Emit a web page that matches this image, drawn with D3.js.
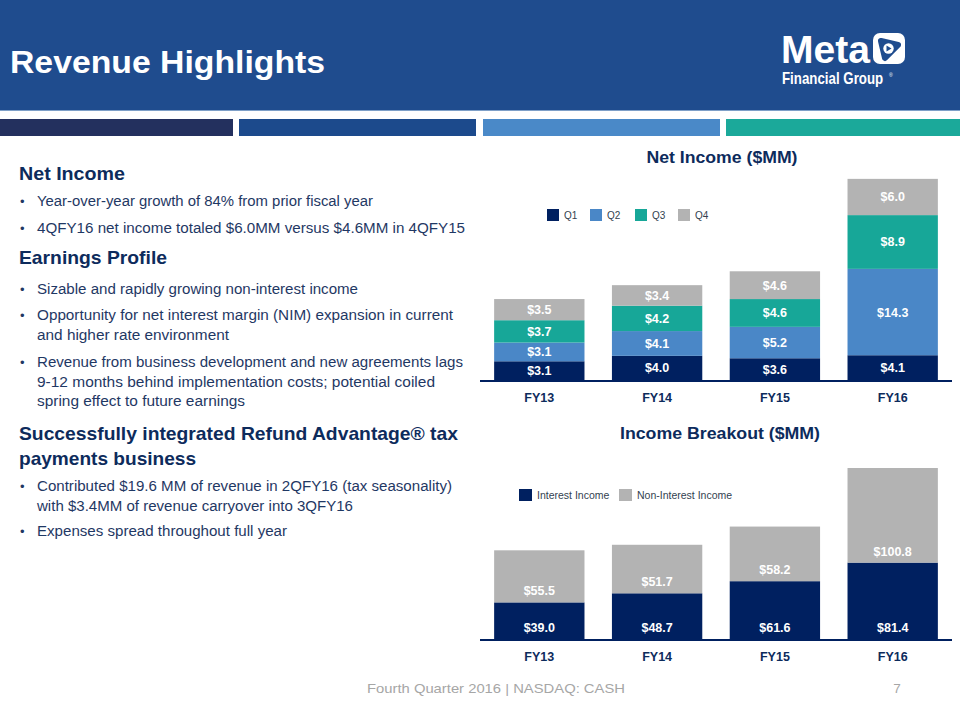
<!DOCTYPE html>
<html><head><meta charset="utf-8">
<script src="https://cdn.jsdelivr.net/npm/d3@7"></script>
<style>body{margin:0;background:#fff}svg{display:block}</style>
</head><body>
<script>
const years = ["FY13","FY14","FY15","FY16"];
const quarters = ["Q1","Q2","Q3","Q4"];
const q1 = [3.1,4.0,3.6,4.1];
const q2 = [3.1,4.1,5.2,14.3];
const q3 = [3.7,4.2,4.6,8.9];
const q4 = [3.5,3.4,4.6,6.0];
const incomeSeries = ["Interest Income","Non-Interest Income"];
const interestIncome = [39.0,48.7,61.6,81.4];
const nonInterestIncome = [55.5,51.7,58.2,100.8];

const W=960,H=720;
const navy="#002060", txtNavy="#0D2B5C", bodyCol="#1F3864";
const qColors=["#002060","#4A87C7","#17A798","#B3B3B3"];
const incColors=["#002060","#B3B3B3"];
const svg=d3.select("body").append("svg").attr("width",W).attr("height",H);
const FONT="'Liberation Sans', Arial, sans-serif";
const hdr="#1F4C8E";

// header
svg.append("rect").attr("x",0).attr("y",0).attr("width",W).attr("height",111).attr("fill",hdr);
svg.append("rect").attr("x",0).attr("y",110).attr("width",W).attr("height",1).attr("fill","#7FA0C8");
svg.append("text").attr("x",10).attr("y",73).attr("fill","#fff").attr("font-family",FONT)
  .attr("font-weight","bold").attr("font-size",31).attr("textLength",315).attr("lengthAdjust","spacingAndGlyphs")
  .text("Revenue Highlights");
// stripe bars
const stripes=[[0,233,"#23305E"],[239,476,"#1C4A8C"],[483,720,"#4A89C8"],[726,960,"#1BA99A"]];
stripes.forEach(s=>svg.append("rect").attr("x",s[0]).attr("y",119).attr("width",s[1]-s[0]).attr("height",17).attr("fill",s[2]));

// logo
const lg=svg.append("g");
lg.append("text").attr("x",781).attr("y",63).attr("fill","#fff").attr("font-family",FONT).attr("font-weight","bold")
  .attr("font-size",39).attr("textLength",89).attr("lengthAdjust","spacingAndGlyphs").text("Meta");
lg.append("rect").attr("x",873).attr("y",33).attr("width",32).attr("height",31).attr("rx",7).attr("fill","#fff");
lg.append("path").attr("d","M881,41 L898,45 L885,58 Z").attr("fill",hdr).attr("stroke",hdr)
  .attr("stroke-width",6).attr("stroke-linejoin","round");
lg.append("circle").attr("cx",888.5).attr("cy",48.5).attr("r",5.2).attr("fill","#fff");
lg.append("path").attr("d","M886.5,45.5 L891.5,48.5 L886.5,51.5 Z").attr("fill",hdr);
lg.append("g").attr("transform","translate(782,84) scale(1,1.2)")
  .append("text").attr("x",0).attr("y",0).attr("fill","#fff").attr("font-family",FONT).attr("font-weight","bold")
  .attr("font-size",13.3).text("Financial Group");
lg.append("text").attr("x",889).attr("y",77).attr("fill","#fff").attr("font-family",FONT).attr("font-size",5).text("®");

// left text
const lines=[
 {t:"Net Income",x:19,y:180,w:106,h:true},
 {t:"Year-over-year growth of 84% from prior fiscal year",x:37,y:206,w:336,b:true},
 {t:"4QFY16 net income totaled $6.0MM versus $4.6MM in 4QFY15",x:37,y:233,w:428,b:true},
 {t:"Earnings Profile",x:19,y:264,w:148,h:true},
 {t:"Sizable and rapidly growing non-interest income",x:37,y:294,w:321,b:true},
 {t:"Opportunity for net interest margin (NIM) expansion in current",x:37,y:320,w:416,b:true},
 {t:"and higher rate environment",x:37,y:340,w:192},
 {t:"Revenue from business development and new agreements lags",x:37,y:367,w:426,b:true},
 {t:"9-12 months behind implementation costs;  potential coiled",x:37,y:387,w:398},
 {t:"spring effect to future earnings",x:37,y:406,w:208},
 {t:"Successfully integrated Refund Advantage\u00AE tax",x:19,y:440,w:439,h:true},
 {t:"payments business",x:19,y:465,w:177,h:true},
 {t:"Contributed $19.6 MM of revenue in 2QFY16 (tax seasonality)",x:37,y:491,w:415,b:true},
 {t:"with $3.4MM of revenue carryover into 3QFY16",x:37,y:511,w:316},
 {t:"Expenses spread throughout full year",x:37,y:536,w:250,b:true}
];
lines.forEach(l=>{
  svg.append("text").attr("x",l.x).attr("y",l.y).attr("font-family",FONT)
    .attr("fill",l.h?txtNavy:bodyCol).attr("font-weight",l.h?"bold":"normal")
    .attr("font-size",l.h?19:14).attr("textLength",l.w).attr("lengthAdjust","spacingAndGlyphs").text(l.t);
  if(l.b) svg.append("text").attr("x",20).attr("y",l.y).attr("font-family",FONT).attr("fill",bodyCol).attr("font-size",13).text("\u2022");
});

// shared x scale
const x=d3.scaleBand().domain(years).range([480,952]).paddingInner(0.233).paddingOuter(0.12);

// ---- chart 1 ----
const y1=d3.scaleLinear().domain([0,35]).range([380,380-35*6.04]);
svg.append("text").attr("x",722).attr("y",163).attr("text-anchor","middle").attr("font-family",FONT)
  .attr("font-weight","bold").attr("font-size",16).attr("fill",txtNavy).attr("textLength",151).attr("lengthAdjust","spacingAndGlyphs").text("Net Income ($MM)");
const qData=years.map((yr,i)=>({year:yr,Q1:q1[i],Q2:q2[i],Q3:q3[i],Q4:q4[i]}));
const st1=d3.stack().keys(quarters)(qData);
const g1=svg.append("g");
st1.forEach((layer,li)=>{
  layer.forEach(d=>{
    g1.append("rect").attr("x",x(d.data.year)).attr("width",x.bandwidth())
      .attr("y",y1(d[1])).attr("height",y1(d[0])-y1(d[1])).attr("fill",qColors[li]);
    g1.append("text").attr("x",x(d.data.year)+x.bandwidth()/2).attr("y",(y1(d[0])+y1(d[1]))/2+4.5)
      .attr("text-anchor","middle").attr("font-family",FONT).attr("font-weight","bold").attr("font-size",12.5)
      .attr("fill","#fff").text("$"+(d[1]-d[0]).toFixed(1));
  });
});
const ax1=svg.append("g").attr("transform","translate(0,381)").call(d3.axisBottom(x).tickSize(0).tickPadding(12));
ax1.select(".domain").attr("stroke",navy).attr("stroke-width",2).attr("d","M480,0H952");
ax1.selectAll("text").attr("font-family",FONT).attr("font-weight","bold").attr("font-size",12.5).attr("fill",txtNavy);
const leg1=svg.append("g");
const legX1=[547,590,635,678];
quarters.forEach((q,i)=>{
  leg1.append("rect").attr("x",legX1[i]).attr("y",209).attr("width",12).attr("height",12).attr("fill",qColors[i]);
  leg1.append("text").attr("x",legX1[i]+17).attr("y",219).attr("font-family",FONT).attr("font-size",10).attr("fill","#333F50").text(q);
});

// ---- chart 2 ----
const y2=d3.scaleLinear().domain([0,190]).range([639,639-190*0.9385]);
svg.append("text").attr("x",720).attr("y",439).attr("text-anchor","middle").attr("font-family",FONT)
  .attr("font-weight","bold").attr("font-size",16).attr("fill",txtNavy).attr("textLength",200).attr("lengthAdjust","spacingAndGlyphs").text("Income Breakout ($MM)");
const iData=years.map((yr,i)=>({year:yr,"Interest Income":interestIncome[i],"Non-Interest Income":nonInterestIncome[i]}));
const st2=d3.stack().keys(incomeSeries)(iData);
const g2=svg.append("g");
st2.forEach((layer,li)=>{
  layer.forEach(d=>{
    g2.append("rect").attr("x",x(d.data.year)).attr("width",x.bandwidth())
      .attr("y",y2(d[1])).attr("height",y2(d[0])-y2(d[1])).attr("fill",incColors[li]);
    g2.append("text").attr("x",x(d.data.year)+x.bandwidth()/2).attr("y",y2(d[0])-7)
      .attr("text-anchor","middle").attr("font-family",FONT).attr("font-weight","bold").attr("font-size",12.5)
      .attr("fill","#fff").text("$"+(d[1]-d[0]).toFixed(1));
  });
});
const ax2=svg.append("g").attr("transform","translate(0,640)").call(d3.axisBottom(x).tickSize(0).tickPadding(12));
ax2.select(".domain").attr("stroke",navy).attr("stroke-width",2).attr("d","M480,0H952");
ax2.selectAll("text").attr("font-family",FONT).attr("font-weight","bold").attr("font-size",12.5).attr("fill",txtNavy);
const leg2=svg.append("g");
const legX2=[519,619];
incomeSeries.forEach((s,i)=>{
  leg2.append("rect").attr("x",legX2[i]).attr("y",489).attr("width",13).attr("height",12).attr("fill",incColors[i]);
  leg2.append("text").attr("x",legX2[i]+18).attr("y",499).attr("font-family",FONT).attr("font-size",10.5).attr("fill","#333F50").text(s);
});

// footer
svg.append("text").attr("x",367).attr("y",693).attr("font-family",FONT).attr("font-size",13.5).attr("fill","#A6A6A6")
  .attr("textLength",258).attr("lengthAdjust","spacingAndGlyphs").text("Fourth Quarter 2016  |  NASDAQ: CASH");
svg.append("text").attr("x",897).attr("y",693).attr("text-anchor","middle").attr("font-family",FONT).attr("font-size",13.5).attr("fill","#A6A6A6").text("7");
</script>
</body></html>
